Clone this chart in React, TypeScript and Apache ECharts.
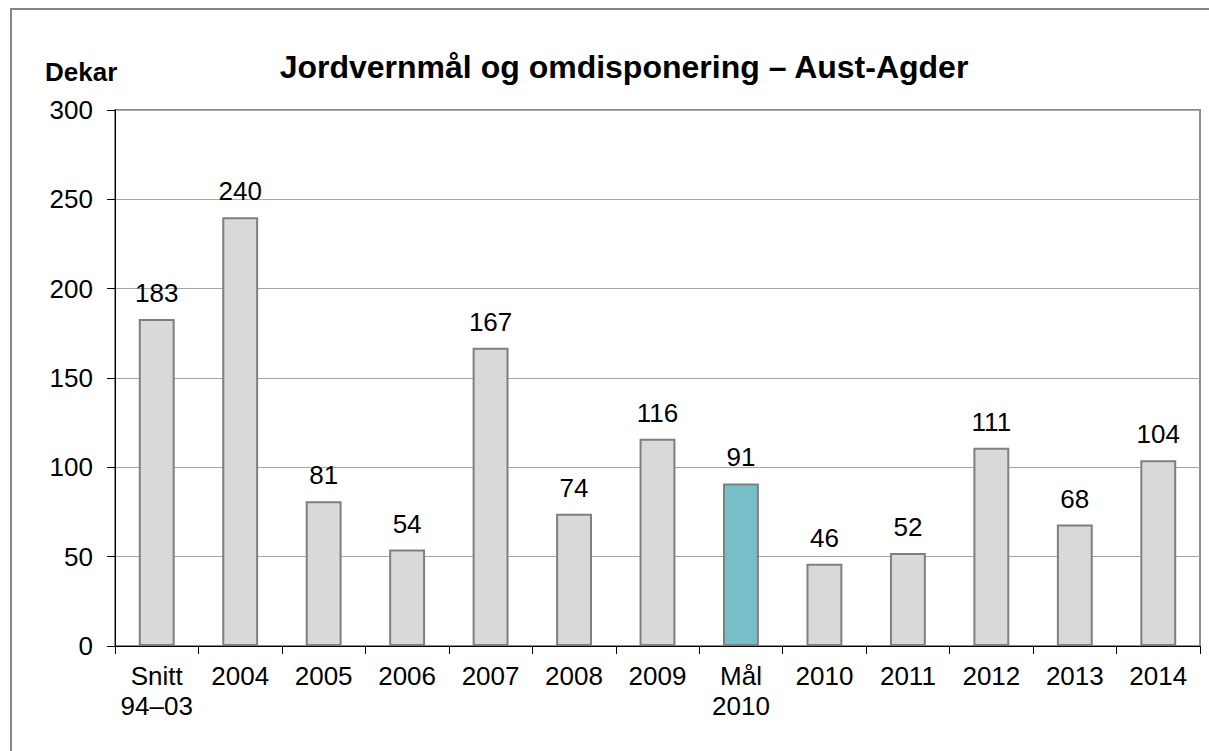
import React, { useEffect, useRef } from "react";
import * as echarts from "echarts";

const categories = ["Snitt\n94–03", "2004", "2005", "2006", "2007", "2008", "2009", "Mål\n2010", "2010", "2011", "2012", "2013", "2014"];
const values = [183, 240, 81, 54, 167, 74, 116, 91, 46, 52, 111, 68, 104];
const highlightIndex = 7;
const yTicks = { min: 0, max: 300, interval: 50 };

const FONT = "'Liberation Sans', Arial, sans-serif";

export default function App() {
  const ref = useRef<HTMLDivElement>(null);
  useEffect(() => {
    if (!ref.current) return;
    const chart = echarts.init(ref.current, null, { renderer: "svg" });
    chart.setOption({
      animation: false,
      backgroundColor: "#ffffff",
      textStyle: { fontFamily: FONT },
      title: {
        text: "Jordvernmål og omdisponering – Aust-Agder",
        left: 624,
        textAlign: "center",
        top: 51,
        padding: 0,
        textStyle: { fontFamily: FONT, fontSize: 32, fontWeight: "bold", color: "#000" },
      },
      graphic: [
        {
          type: "rect",
          shape: { x: 11, y: 9, width: 1300, height: 900 },
          style: { fill: "none", stroke: "#868686", lineWidth: 2 },
          silent: true,
          z: -10,
        },
        {
          type: "text",
          left: 45,
          top: 59,
          style: { text: "Dekar", font: `bold 26px ${FONT}`, fill: "#000" },
        },
      ],
      grid: {
        left: 115,
        right: 9,
        top: 110,
        bottom: 105,
        show: true,
        borderColor: "#8c8c8c",
        borderWidth: 2,
        containLabel: false,
      },
      xAxis: {
        type: "category",
        data: categories,
        axisLine: { lineStyle: { color: "#000", width: 1 } },
        axisTick: { show: true, alignWithLabel: false, length: 8, lineStyle: { color: "#000" } },
        axisLabel: { fontFamily: FONT, fontSize: 26, color: "#000", margin: 15, lineHeight: 30, interval: 0 },
      },
      yAxis: {
        type: "value",
        min: yTicks.min,
        max: yTicks.max,
        interval: yTicks.interval,
        axisLine: { show: true, lineStyle: { color: "#000", width: 1 } },
        axisTick: { show: true, length: 8, lineStyle: { color: "#000" } },
        axisLabel: { fontFamily: FONT, fontSize: 26, color: "#000", margin: 22 },
        splitLine: { lineStyle: { color: "#a6a6a6", width: 1 } },
      },
      series: [
        {
          type: "bar",
          data: values.map((v, i) => ({
            value: v,
            itemStyle: { color: i === highlightIndex ? "#77bfc8" : "#d9d9d9" },
          })),
          barWidth: "43%",
          itemStyle: { borderColor: "#7f7f7f", borderWidth: 2 },
          label: {
            show: true,
            position: "top",
            distance: 13,
            fontFamily: FONT,
            fontSize: 26,
            color: "#000",
          },
        },
      ],
    });
    return () => chart.dispose();
  }, []);
  return <div ref={ref} style={{ position: "fixed", left: 0, top: 0, width: 1209, height: 751 }} />;
}
